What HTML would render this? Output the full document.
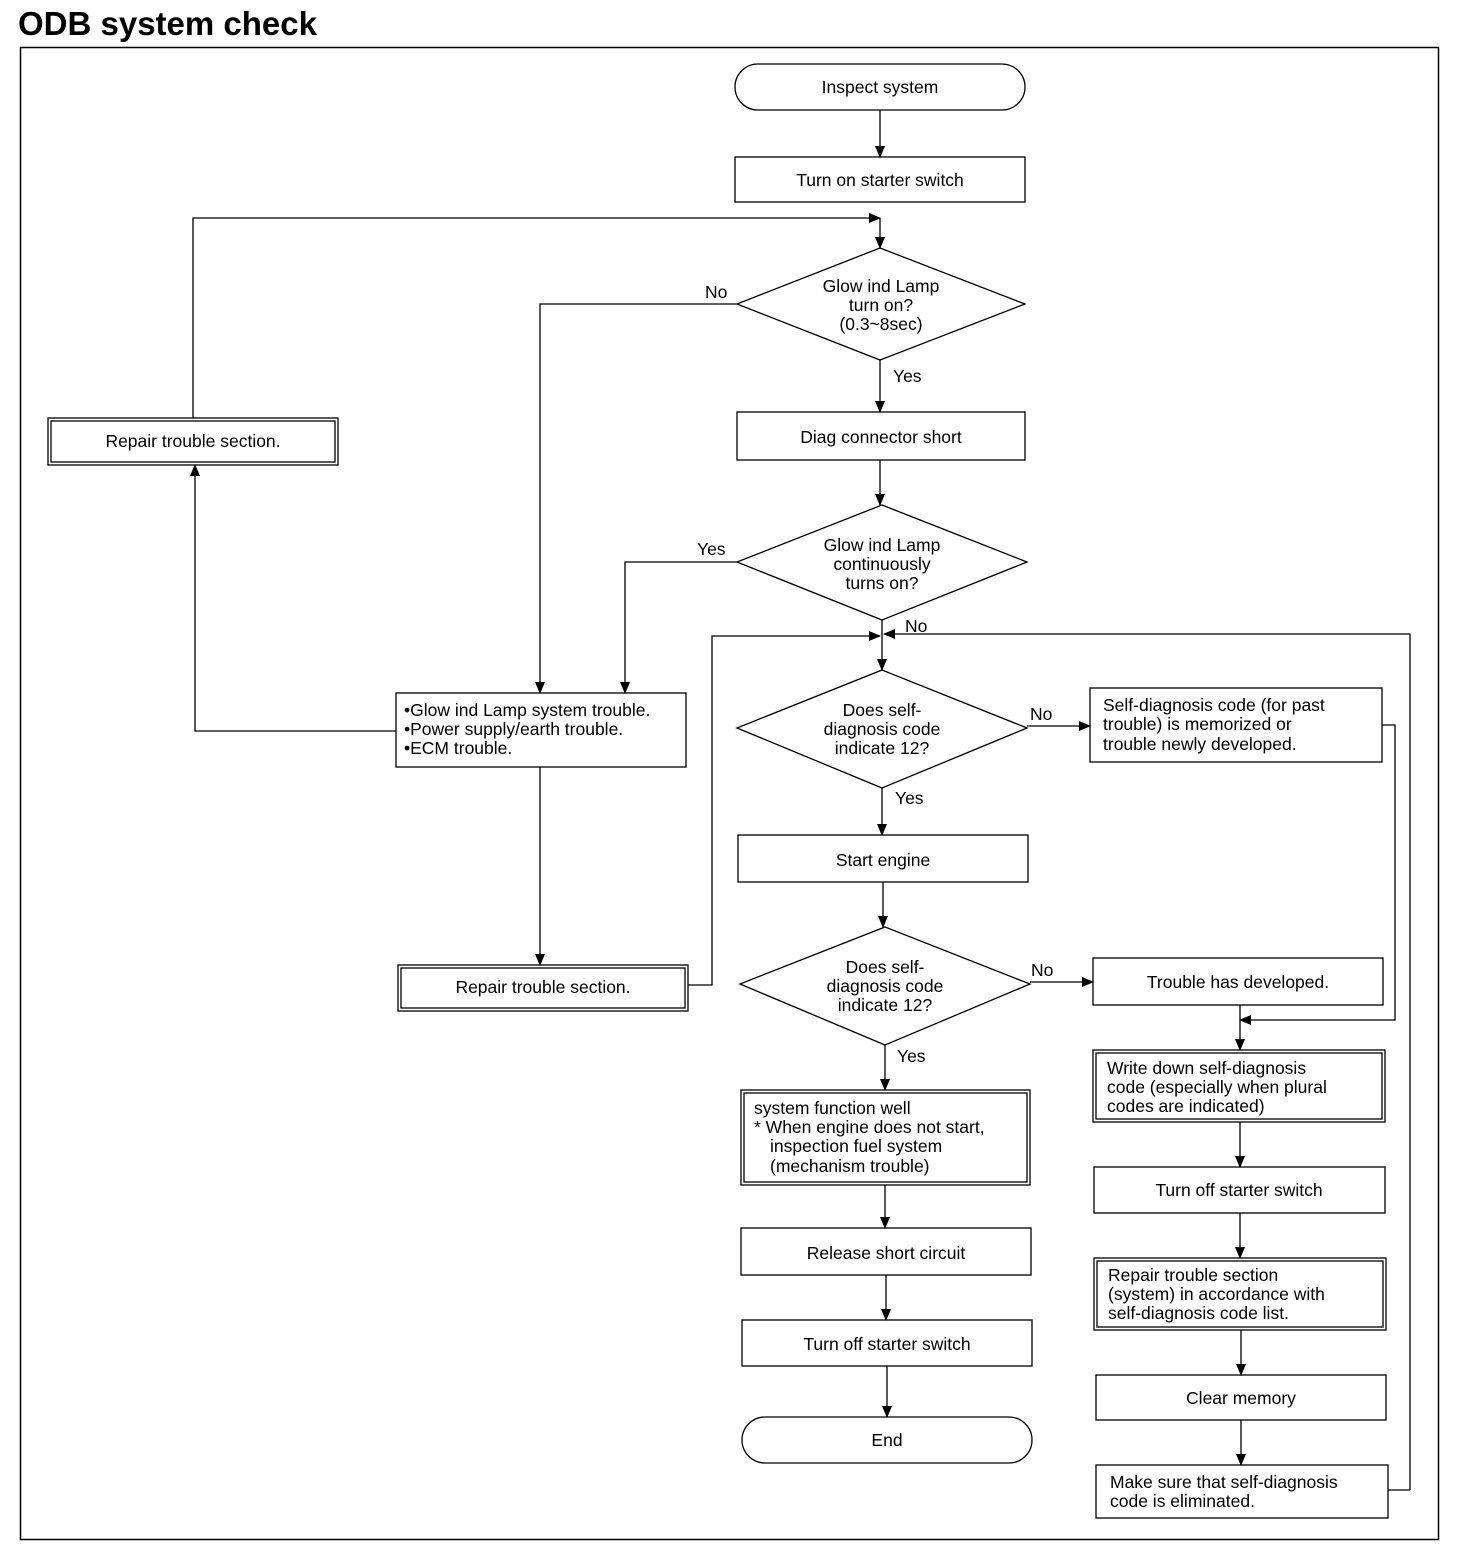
<!DOCTYPE html>
<html><head><meta charset="utf-8"><style>
html,body{margin:0;padding:0;background:#fff}
svg{display:block}
text{font-family:"Liberation Sans",sans-serif;font-size:17.5px;fill:#000}
.t{text-anchor:middle}
</style></head><body>
<svg width="1472" height="1558" viewBox="0 0 1472 1558" xmlns="http://www.w3.org/2000/svg">
<defs>
<marker id="a" markerWidth="12" markerHeight="12" refX="11" refY="6" orient="auto" markerUnits="userSpaceOnUse">
<path d="M0,1 L12,6 L0,11 Z" fill="#000"/></marker>
</defs>
<text x="18" y="35" style="font-size:33px;font-weight:bold">ODB system check</text>
<rect x="20.5" y="47.5" width="1418" height="1492" fill="none" stroke="#000" stroke-width="1.5"/>

<g fill="none" stroke="#000" stroke-width="1.3">
<rect x="735" y="64" width="290" height="46" rx="23"/>
<rect x="735" y="157" width="290" height="45"/>
<polygon points="880,248 1025,304 880,360 737,304"/>
<rect x="737" y="412" width="288" height="48"/>
<polygon points="882,505 1027,562 882,620 737,562"/>
<polygon points="882,670 1027,728 882,788 737,728"/>
<rect x="1090" y="688" width="292" height="74"/>
<rect x="738" y="835" width="290" height="47"/>
<polygon points="885,927 1030,984 885,1045 740,984"/>
<rect x="1093" y="958" width="290" height="47"/>
<rect x="1093" y="1050" width="292" height="72"/><rect x="1096" y="1053" width="286" height="66"/>
<rect x="48" y="418" width="290" height="47"/><rect x="51" y="421" width="284" height="41"/>
<rect x="396" y="693" width="290" height="74"/>
<rect x="398" y="965" width="290" height="46"/><rect x="401" y="968" width="284" height="40"/>
<rect x="741" y="1090" width="289" height="95"/><rect x="744" y="1093" width="283" height="89"/>
<rect x="741" y="1228" width="290" height="47"/>
<rect x="742" y="1320" width="290" height="46"/>
<rect x="742" y="1417" width="290" height="46" rx="23"/>
<rect x="1094" y="1167" width="291" height="46"/>
<rect x="1094" y="1258" width="292" height="72"/><rect x="1097" y="1261" width="286" height="66"/>
<rect x="1096" y="1375" width="290" height="45"/>
<rect x="1096" y="1465" width="292" height="53"/>
</g>
<g fill="none" stroke="#000" stroke-width="1.3" marker-end="url(#a)">
<path d="M880,110 V157"/>
<path d="M193,418 V218 H880"/>
<path d="M880,218 V248"/>
<path d="M737,304 H540 V693"/>
<path d="M880,360 V412"/>
<path d="M880,460 V505"/>
<path d="M737,562 H625 V693"/>
<path d="M688,985 H712 V636 H880"/>
<path d="M1410,1490 V634 H884"/>
<path d="M882,620 V670"/>
<path d="M1027,726 H1090"/>
<path d="M882,788 V835"/>
<path d="M883,882 V927"/>
<path d="M1030,982 H1093"/>
<path d="M1382,725 H1395 V1020 H1240"/>
<path d="M1240,1005 V1050"/>
<path d="M396,731 H195 V465"/>
<path d="M540,767 V965"/>
<path d="M885,1045 V1090"/>
<path d="M885,1185 V1228"/>
<path d="M886,1275 V1320"/>
<path d="M887,1366 V1417"/>
<path d="M1240,1122 V1167"/>
<path d="M1240,1213 V1258"/>
<path d="M1241,1330 V1375"/>
<path d="M1241,1420 V1465"/>
</g>
<path d="M1388,1490 H1410" stroke="#000" stroke-width="1.3"/>

<text class="t" x="880" y="93">Inspect system</text>
<text class="t" x="880" y="186">Turn on starter switch</text>
<text class="t" x="881" y="292">Glow ind Lamp</text>
<text class="t" x="881" y="311">turn on?</text>
<text class="t" x="881" y="330">(0.3~8sec)</text>
<text x="705" y="298">No</text>
<text x="893" y="382">Yes</text>
<text class="t" x="881" y="443">Diag connector short</text>
<text class="t" x="882" y="551">Glow ind Lamp</text>
<text class="t" x="882" y="570">continuously</text>
<text class="t" x="882" y="589">turns on?</text>
<text x="697" y="555">Yes</text>
<text x="905" y="632">No</text>
<text class="t" x="882" y="716">Does self-</text>
<text class="t" x="882" y="735">diagnosis code</text>
<text class="t" x="882" y="754">indicate 12?</text>
<text x="1030" y="720">No</text>
<text x="895" y="804">Yes</text>
<text x="1103" y="711">Self-diagnosis code (for past</text>
<text x="1103" y="730">trouble) is memorized or</text>
<text x="1103" y="750">trouble newly developed.</text>
<text class="t" x="883" y="866">Start engine</text>
<text class="t" x="885" y="973">Does self-</text>
<text class="t" x="885" y="992">diagnosis code</text>
<text class="t" x="885" y="1011">indicate 12?</text>
<text x="1031" y="976">No</text>
<text x="897" y="1062">Yes</text>
<text class="t" x="1238" y="988">Trouble has developed.</text>
<text x="1107" y="1074">Write down self-diagnosis</text>
<text x="1107" y="1093">code (especially when plural</text>
<text x="1107" y="1112">codes are indicated)</text>
<text class="t" x="193" y="447">Repair trouble section.</text>
<text x="404" y="716">•Glow ind Lamp system trouble.</text>
<text x="404" y="735">•Power supply/earth trouble.</text>
<text x="404" y="754">•ECM trouble.</text>
<text class="t" x="543" y="993">Repair trouble section.</text>
<text x="754" y="1114">system function well</text>
<text x="754" y="1133">* When engine does not start,</text>
<text x="770" y="1152">inspection fuel system</text>
<text x="770" y="1172">(mechanism trouble)</text>
<text class="t" x="886" y="1259">Release short circuit</text>
<text class="t" x="887" y="1350">Turn off starter switch</text>
<text class="t" x="887" y="1446">End</text>
<text class="t" x="1239" y="1196">Turn off starter switch</text>
<text x="1108" y="1281">Repair trouble section</text>
<text x="1108" y="1300">(system) in accordance with</text>
<text x="1108" y="1319">self-diagnosis code list.</text>
<text class="t" x="1241" y="1404">Clear memory</text>
<text x="1110" y="1488">Make sure that self-diagnosis</text>
<text x="1110" y="1507">code is eliminated.</text>
</svg>
</body></html>
